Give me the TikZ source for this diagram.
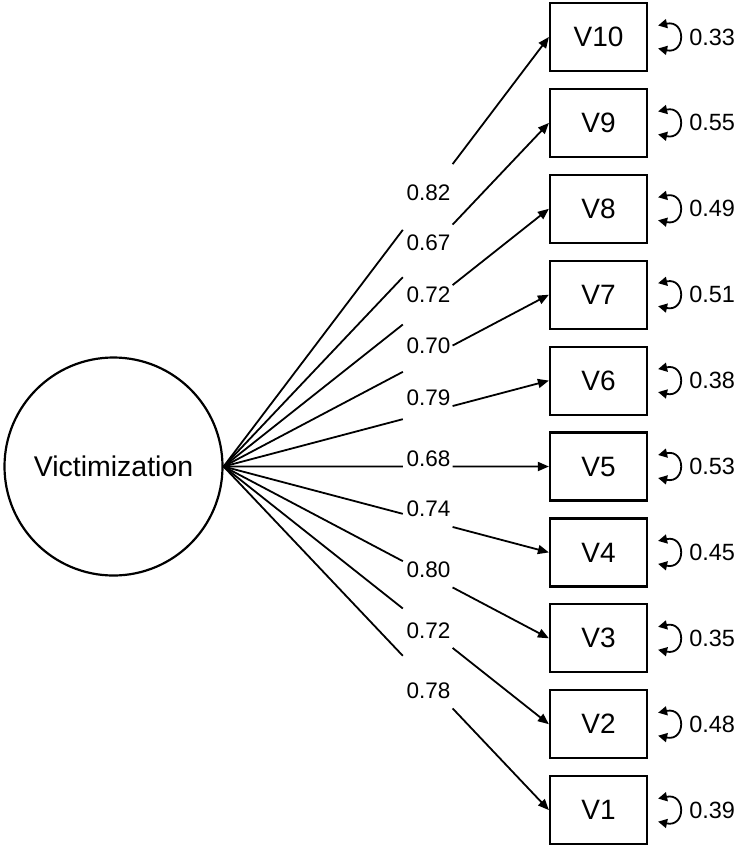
\documentclass[tikz,border=0pt]{standalone}
\usepackage{fontspec}
\setmainfont{Liberation Sans}
\usetikzlibrary{arrows.meta,calc}
\begin{document}
\begin{tikzpicture}[x=1pt,y=-1pt,
 obs/.style={draw,line width=2.2pt,minimum width=97pt,minimum height=68pt,inner sep=0pt,font=\fontsize{28}{30}\selectfont},
 lat/.style={draw,circle,line width=2.2pt,minimum size=218pt,inner sep=0pt,font=\fontsize{28.5}{32}\selectfont},
 load/.style={line width=1.8pt,-{Triangle[length=11pt,width=9pt]}},
 lbl/.style={inner sep=0pt,font=\fontsize{22.5}{24}\selectfont},
 res/.style={line width=1.8pt,{Triangle[length=9pt,width=9pt]}-{Triangle[length=9pt,width=9pt]}},
 resl/.style={anchor=west,inner sep=0pt,font=\fontsize{23.5}{26}\selectfont}]
\useasboundingbox (0,0) rectangle (739,849);
\node[lat] (L) at (113.5,466.5) {Victimization};
\foreach \i/\y/\r/\v/\ly in {10/37/0.33/0.82/193, 9/122.9/0.55/0.67/243, 8/208.8/0.49/0.72/295, 7/294.7/0.51/0.70/346, 6/380.6/0.38/0.79/397.5, 5/466.5/0.53/0.68/459, 4/552.4/0.45/0.74/509, 3/638.3/0.35/0.80/569.5, 2/724.2/0.48/0.72/631, 1/810.1/0.39/0.78/691} {
 \node[obs] (V\i) at (598.5,\y) {V\i};
 \draw[load] (L.east) -- ($(L.east)!0.551!(V\i.west)$) ($(L.east)!0.704!(V\i.west)$) -- (V\i.west);
 \node[lbl] (E\i) at (428.5,\ly) {\v};
 \coordinate (A\i) at ($(V\i.east)+(10,-11.5)$);
 \coordinate (B\i) at ($(V\i.east)+(10,11.5)$);
 \draw[res] (A\i) .. controls +(28,-6) and +(28,6) .. (B\i);
 \node[resl] (R\i) at ($(V\i.east)+(41,0)$) {\r};
}
\end{tikzpicture}
\end{document}
